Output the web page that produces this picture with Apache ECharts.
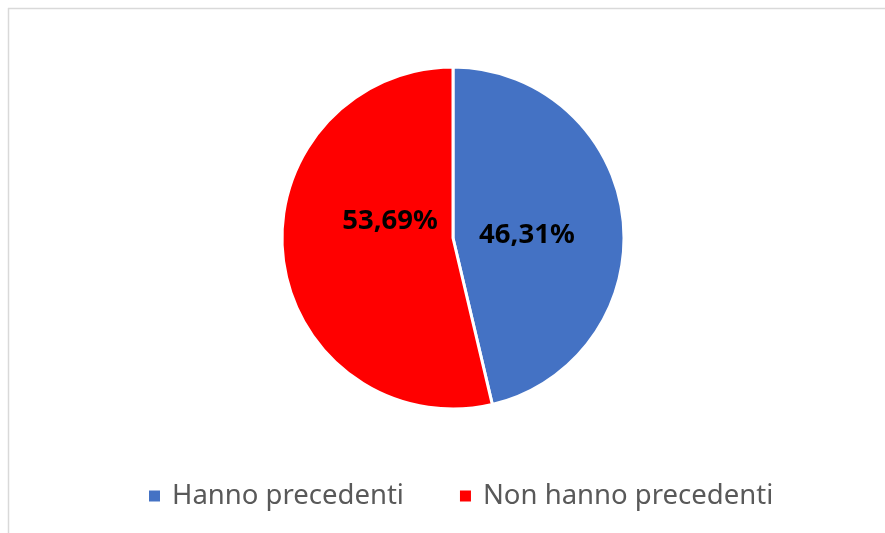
<!DOCTYPE html>
<html>
<head>
<meta charset="utf-8">
<script src="https://cdn.jsdelivr.net/npm/echarts@6/dist/echarts.min.js"></script>
<style>
  html, body { margin: 0; padding: 0; background: #fff; }
  #main { width: 885px; height: 533px; }
</style>
</head>
<body>
<div id="main"></div>
<script>
// categorie e valori (percentuali)
var categorie = ['Hanno precedenti', 'Non hanno precedenti'];
var valori = [46.31, 53.69];
var colori = ['#4472C4', '#FF0000'];
// spostamento delle etichette rispetto alla posizione "inside"
var spostamenti = [[-14, 7], [25, -27]];

var myChart = echarts.init(document.getElementById('main'));

var option = {
  animation: false,
  backgroundColor: '#fff',
  graphic: [
    { type: 'line', shape: { x1: 8, y1: 8.5, x2: 885, y2: 8.5 }, style: { stroke: '#d9d9d9', lineWidth: 1.5 } },
    { type: 'line', shape: { x1: 8.5, y1: 8, x2: 8.5, y2: 533 }, style: { stroke: '#d9d9d9', lineWidth: 1.5 } }
  ],
  legend: {
    bottom: 18,
    left: 142,
    itemWidth: 13,
    itemHeight: 13,
    itemGap: 54,
    icon: 'rect',
    textStyle: { fontFamily: 'Noto Sans', fontSize: 27.5, color: '#595959', padding: [0, 0, 0, 6] },
    data: categorie
  },
  series: [
    {
      type: 'pie',
      center: [453, 238],
      radius: 171,
      startAngle: 90,
      clockwise: true,
      itemStyle: { borderColor: '#fff', borderWidth: 3 },
      label: {
        position: 'inside',
        formatter: function (p) { return p.value.toFixed(2).replace('.', ',') + '%'; },
        fontFamily: 'Noto Sans',
        fontWeight: 'bold',
        fontSize: 27.5,
        color: '#000'
      },
      labelLayout: function (p) {
        var s = spostamenti[p.dataIndex];
        return { dx: s[0], dy: s[1] };
      },
      emphasis: { disabled: true },
      data: categorie.map(function (c, i) {
        return { name: c, value: valori[i], itemStyle: { color: colori[i] } };
      })
    }
  ]
};

myChart.setOption(option);
</script>
</body>
</html>
